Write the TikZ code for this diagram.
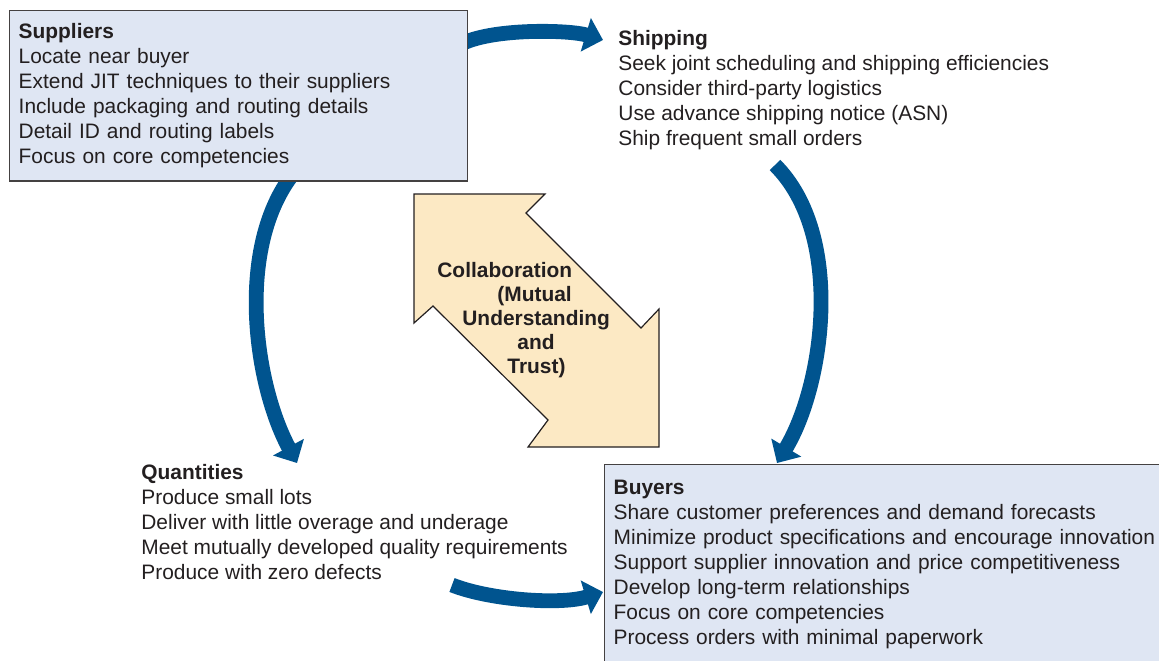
\documentclass[tikz,border=0pt]{standalone}
\usepackage{fontspec}
\setmainfont{Liberation Sans}
\usetikzlibrary{positioning, arrows.meta, calc, backgrounds}
\definecolor{flowblue}{RGB}{0,84,143}
\definecolor{boxblue}{RGB}{223,230,243}
\definecolor{trustpeach}{RGB}{252,233,196}
\definecolor{inkgray}{RGB}{35,31,32}

\begin{document}
\begin{tikzpicture}[
    x=0.5pt, y=-0.5pt,
    every node/.style={text=inkgray, font=\fontsize{10.45}{12.5}\selectfont},
    partner/.style={rectangle, draw=inkgray!85, line width=0.7pt, fill=boxblue, anchor=north west, align=left, inner xsep=4.5pt},
    listing/.style={anchor=north west, align=left, inner sep=0pt},
    flow/.style={draw=flowblue, line width=7.4pt, -{Triangle[length=9pt, width=17pt]}},
    trustarrow/.style={draw=inkgray, line width=0.6pt, fill=trustpeach, line join=miter}
]
\useasboundingbox (0,0) rectangle (1159,660);
\clip (0,0) rectangle (1159,660);

% === PARTNER BOXES ===
\node[partner, text width=220pt, inner ysep=6.5pt] (sup) at (9,10) {\textbf{Suppliers}\\ Locate near buyer\\ Extend JIT techniques to their suppliers\\ Include packaging and routing details\\ Detail ID and routing labels\\ Focus on core competencies};
\node[partner, text width=276pt, inner ysep=7.5pt, text depth=84pt] (buy) at (604,464) {\textbf{Buyers}\\ Share customer preferences and demand forecasts\\ Minimize product specifications and encourage innovation\\ Support supplier innovation and price competitiveness\\ Develop long-term relationships\\ Focus on core competencies\\ Process orders with minimal paperwork};

% === TEXT BLOCKS ===
\node[listing] (ship) at (618,30) {\textbf{Shipping}\\ Seek joint scheduling and shipping efficiencies\\ Consider third-party logistics\\ Use advance shipping notice (ASN)\\ Ship frequent small orders};
\node[listing] (qty) at (141,464) {\textbf{Quantities}\\ Produce small lots\\ Deliver with little overage and underage\\ Meet mutually developed quality requirements\\ Produce with zero defects};

% === COLLABORATION ===
\filldraw[trustarrow] (414,194) -- (545,194) -- (526,213) -- (641,328) -- (659,309) -- (659,447) -- (528,447) -- (548,420) -- (433,306) -- (414,323) -- cycle;
\node[listing, font=\fontsize{10.45}{12}\selectfont\bfseries] (trust) at (437,262) {Collaboration\\ \hspace*{30pt}(Mutual\\ \hspace*{12.5pt}Understanding\\ \hspace*{40pt}and\\ \hspace*{35pt}Trust)};

% === FLOW ARROWS ===
\begin{scope}[on background layer]
\draw[flow] ($(sup.north east)+(-5,33)$) .. controls +(33,-15) and +(-33,-10) .. ($(ship.north west)+(-15,10)$);
\draw[flow] ($(sup.south)+(52,-5)$) .. controls +(-55,75) and +(-42,-78) .. ($(qty.north west)+(156,-1)$);
\draw[flow] ($(ship.north west)+(157,135)$) .. controls +(70,70) and +(47,-78) .. ($(buy.north west)+(173,-1)$);
\draw[flow] ($(qty.north west)+(311,121)$) .. controls +(38,15) and +(-43,13) .. ($(buy.north west)+(-1,128)$);
\end{scope}

\end{tikzpicture}
\end{document}
